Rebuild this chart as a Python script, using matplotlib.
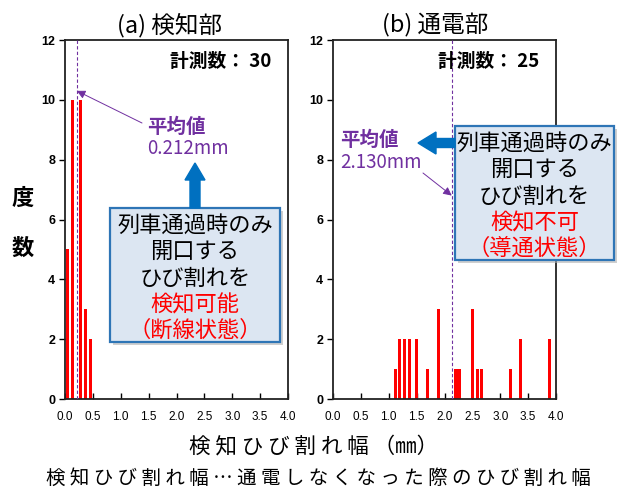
import numpy as np
import matplotlib
matplotlib.use("Agg")
from matplotlib import pyplot as plt
from matplotlib import patches

plt.rcParams['font.family'] = ['Noto Sans CJK JP', 'DejaVu Sans']

# Data
a_width = [0.05, 0.14, 0.27, 0.36, 0.46]
a_count = [5, 10, 10, 3, 2]
a_mean = 0.212
a_n = 30

b_width = [1.12, 1.19, 1.28, 1.38, 1.49, 1.69, 1.89, 2.19, 2.26,
           2.50, 2.59, 2.66, 3.18, 3.37, 3.88]
b_count = [1, 2, 2, 2, 2, 1, 3, 1, 1, 3, 1, 1, 1, 2, 2]
b_mean = 2.130
b_n = 25

xticks = [0.0, 0.5, 1.0, 1.5, 2.0, 2.5, 3.0, 3.5, 4.0]
yticks = [0, 2, 4, 6, 8, 10, 12]

W, H = 624, 491
PURPLE = '#7030A0'
BLUE = '#0070C0'

fig = plt.figure(figsize=(W / 100, H / 100), dpi=100)


def px(x, y):
    # top-left pixel coords -> inches for dpi_scale_trans
    return x / 100, (H - y) / 100


def make_axes(left_px, widths, counts, mean, n):
    ax = fig.add_axes([left_px / W, (H - 399) / H, 223 / W, 359 / H])
    ax.bar(widths, counts, width=0.055, color='#FF0000', zorder=2)
    ax.axvline(mean, color=PURPLE, lw=0.8, ls=(0, (3, 2)), zorder=3)
    ax.set_xlim(0, 4)
    ax.set_ylim(0, 12)
    ax.set_xticks(xticks)
    ax.set_xticklabels(['%.1f' % t for t in xticks], fontfamily='Liberation Sans', fontsize=8.5)
    ax.set_yticks(yticks)
    ax.set_yticklabels([str(t) for t in yticks], fontfamily='Liberation Sans',
                       fontsize=9, fontweight='bold')
    ax.tick_params(axis='x', direction='in', length=4, pad=9, width=1)
    ax.tick_params(axis='y', direction='out', length=4, pad=3, width=1)
    for s in ax.spines.values():
        s.set_linewidth(1.3)
        s.set_color('#222222')
    ax.text(0.925, 0.94, '計測数： %d' % n, transform=ax.transAxes, ha='right', va='center',
            fontsize=13.5, fontweight='bold')
    return ax


ax1 = make_axes(65, a_width, a_count, a_mean, a_n)
ax2 = make_axes(333, b_width, b_count, b_mean, b_n)

# titles
fig.text(170 / W, 1 - 25 / H, '(a) 検知部', ha='center', va='center', fontsize=17)
fig.text(435 / W, 1 - 25 / H, '(b) 通電部', ha='center', va='center', fontsize=17)

# y label
fig.text(23 / W, 1 - 198 / H, '度', ha='center', va='center', fontsize=16, fontweight='bold')
fig.text(23 / W, 1 - 248 / H, '数', ha='center', va='center', fontsize=16, fontweight='bold')

# x label and note
fig.text(314 / W, 1 - 447 / H, ' '.join('検知ひび割れ幅') + ' （㎜）', ha='center', va='center',
         fontsize=15.5)
fig.text(318 / W, 1 - 478 / H, ' '.join('検知ひび割れ幅…通電しなくなった際のひび割れ幅'),
         ha='center', va='center', fontsize=14)

# mean labels
fig.text(147 / W, 1 - 127 / H, '平均値', ha='left', va='center', fontsize=14,
         fontweight='bold', color=PURPLE)
fig.text(147 / W, 1 - 149 / H, '0.212mm', ha='left', va='center', fontsize=13.5, color=PURPLE)
fig.text(340 / W, 1 - 140 / H, '平均値', ha='left', va='center', fontsize=14,
         fontweight='bold', color=PURPLE)
fig.text(340 / W, 1 - 162 / H, '2.130mm', ha='left', va='center', fontsize=13.5, color=PURPLE)

# thin purple arrows to the mean lines
ax1.annotate('', xy=(a_mean, 10.3), xytext=(142 / W, 1 - 123 / H), textcoords='figure fraction',
             arrowprops=dict(arrowstyle='-|>,head_length=0.5,head_width=0.25', color=PURPLE,
                             lw=0.7, shrinkA=0, shrinkB=0))
ax2.annotate('', xy=(b_mean, 6.8), xytext=(423 / W, 1 - 173 / H), textcoords='figure fraction',
             arrowprops=dict(arrowstyle='-|>,head_length=0.5,head_width=0.25', color=PURPLE,
                             lw=0.7, shrinkA=0, shrinkB=0))


def note_box(x0, y0, x1, y1, lines, colors):
    sx, sy = px(x0 + 3, y1 + 3)
    shadow = patches.Rectangle((sx, sy), (x1 - x0) / 100, (y1 - y0) / 100,
                               transform=fig.dpi_scale_trans, facecolor='#B0B0B0',
                               edgecolor='none', alpha=0.6, zorder=4)
    bx, by = px(x0, y1)
    box = patches.Rectangle((bx, by), (x1 - x0) / 100, (y1 - y0) / 100,
                            transform=fig.dpi_scale_trans, facecolor='#DCE6F2',
                            edgecolor='#2E75B6', lw=1.6, zorder=5)
    fig.patches.extend([shadow, box])
    cx = (x0 + x1) / 2
    ys = [y0 + 17, y0 + 43, y0 + 70, y0 + 97, y0 + 122]
    for t, c, yy in zip(lines, colors, ys):
        fig.text(cx / W, 1 - yy / H, t, ha='center', va='center', fontsize=16, color=c, zorder=6)


note_box(110, 208, 280, 342,
         ['列車通過時のみ', '開口する', 'ひび割れを', '検知可能', '（断線状態）'],
         ['black', 'black', 'black', '#FF0000', '#FF0000'])
note_box(455, 126, 614, 260,
         ['列車通過時のみ', '開口する', 'ひび割れを', '検知不可', '（導通状態）'],
         ['black', 'black', 'black', '#FF0000', '#FF0000'])

# thick blue arrows
x, y = px(195, 208)
fig.patches.append(patches.FancyArrow(x, y, 0, 0.45, width=0.10, head_width=0.20,
                                      head_length=0.17, length_includes_head=True,
                                      transform=fig.dpi_scale_trans, color=BLUE, zorder=5))
x, y = px(455, 143)
fig.patches.append(patches.FancyArrow(x, y, -0.37, 0, width=0.09, head_width=0.22,
                                      head_length=0.18, length_includes_head=True,
                                      transform=fig.dpi_scale_trans, color=BLUE, zorder=5))

fig.savefig('out.png', dpi=100)
